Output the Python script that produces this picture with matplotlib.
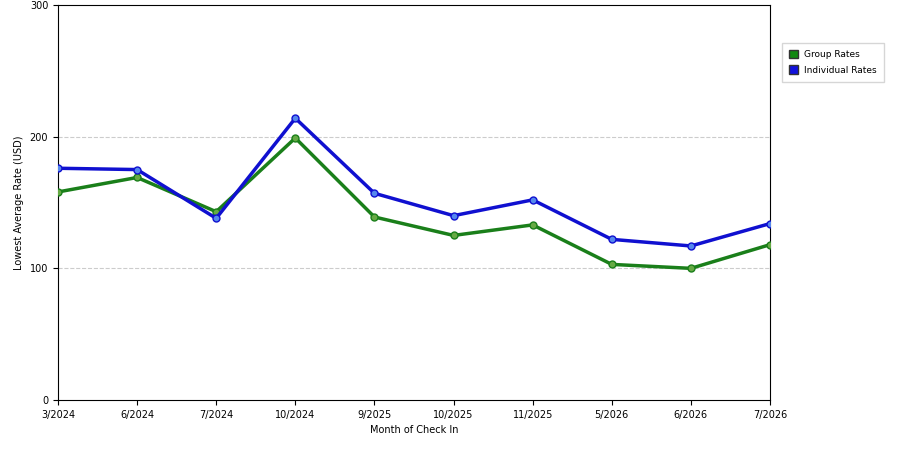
import matplotlib
matplotlib.use("Agg")
import matplotlib.pyplot as plt
from matplotlib.patches import Patch

months = ["3/2024","6/2024","7/2024","10/2024","9/2025","10/2025","11/2025","5/2026","6/2026","7/2026"]
group = [158, 169, 143, 199, 139, 125, 133, 103, 100, 118]
indiv = [176, 175, 138, 214, 157, 140, 152, 122, 117, 134]

fig = plt.figure(figsize=(9, 4.5), dpi=100)
ax = fig.add_axes([0.0644, 0.111, 0.7912, 0.878])
x = range(len(months))
ax.plot(x, group, color="#1a7f1a", lw=2.5, marker="o", ms=5, mfc="#66aa44", mec="#1a7f1a", zorder=3)
ax.plot(x, indiv, color="#1010d0", lw=2.5, marker="o", ms=5, mfc="#5588ee", mec="#1010d0", zorder=3)
ax.set_xlim(0, len(months)-1)
ax.set_ylim(0, 300)
ax.set_yticks([0, 100, 200, 300])
ax.set_xticks(list(x))
ax.set_xticklabels(months, fontsize=7)
ax.tick_params(axis="y", labelsize=7)
for v in [100, 200]:
    ax.axhline(v, color="#cccccc", ls="--", lw=0.8, zorder=1)
ax.set_xlabel("Month of Check In", fontsize=7)
ax.set_ylabel("Lowest Average Rate (USD)", fontsize=7)
handles = [Patch(facecolor="#118811", edgecolor="#333333", label="Group Rates"),
           Patch(facecolor="#1111dd", edgecolor="#333333", label="Individual Rates")]
fig.legend(handles=handles, loc="upper left", bbox_to_anchor=(0.864, 0.915), fontsize=6.5,
           frameon=True, fancybox=False, edgecolor="#cccccc", handlelength=1.0, handleheight=1.0,
           handletextpad=0.6, borderpad=0.8, labelspacing=0.7)
fig.savefig("out.png", dpi=100)
